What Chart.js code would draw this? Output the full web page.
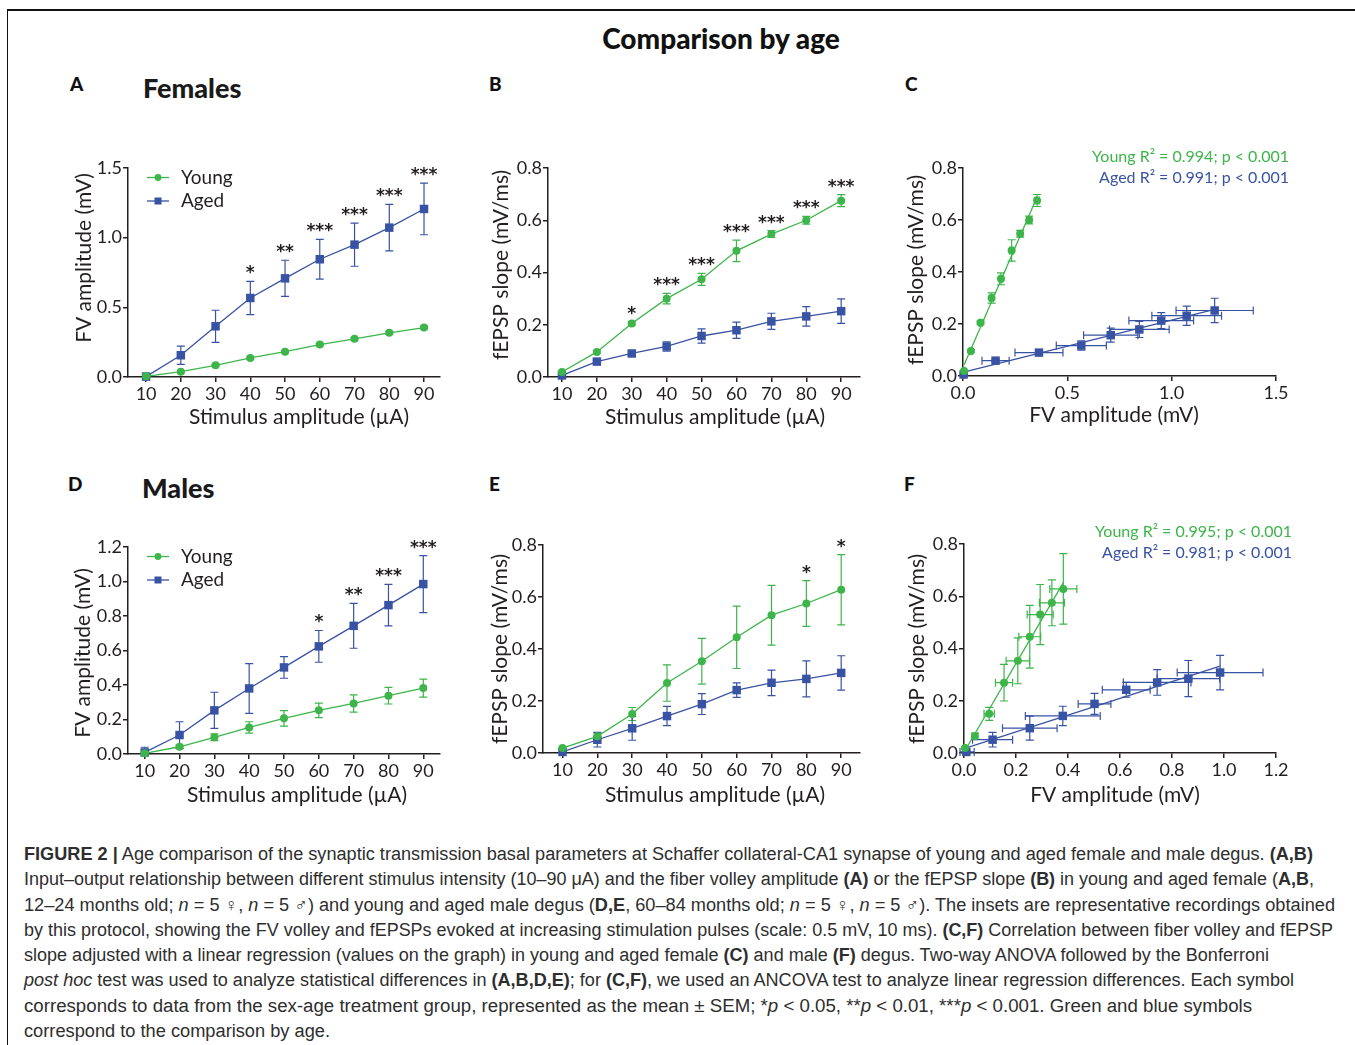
<!DOCTYPE html>
<html lang="en">
<head>
<meta charset="UTF-8">
<title>Comparison by age</title>
<style>
  body { margin: 0; width: 1355px; height: 1045px; position: relative; overflow: hidden;
         background: #fff; color: #231f20; font-family: Lato, "Open Sans", sans-serif; }
  .frame { position: absolute; left: 7px; top: 9px; right: -2px; bottom: -2px;
           border-top: 2px solid #111; border-left: 1px solid #111; }
  .txt { position: absolute; white-space: nowrap; line-height: 30px; }
  .main-title { font-weight: 900; font-size: 28px; transform: translateX(-50%); color: #111; }
  .letter { font-weight: 900; font-size: 19px; color: #111; }
  .group { font-weight: 900; font-size: 27px; color: #1a1a1a; }
  canvas { position: absolute; }
  .caption { position: absolute; left: 24px; top: 842px; font-family: "Liberation Sans", Arial, sans-serif;
             font-size: 18px; line-height: 25.25px; color: #2e2e2e; }
  .caption div { white-space: nowrap; width: max-content; transform-origin: 0 50%; }
</style>
</head>
<body>
<div class="frame"></div>

<div class="txt main-title" style="left:721px; top:23px;">Comparison by age</div>

<div class="txt letter" style="left:70px; top:69px;">A</div>
<div class="txt group" style="left:143px; top:73px;">Females</div>
<div class="txt letter" style="left:489px; top:69px;">B</div>
<div class="txt letter" style="left:905px; top:69px;">C</div>

<div class="txt letter" style="left:68px; top:469px;">D</div>
<div class="txt group" style="left:142px; top:473px;">Males</div>
<div class="txt letter" style="left:489px; top:469px;">E</div>
<div class="txt letter" style="left:904px; top:469px;">F</div>

<div id="charts"></div>

<div class="caption" id="caption">
  <div><b>FIGURE 2 |</b> Age comparison of the synaptic transmission basal parameters at Schaffer collateral-CA1 synapse of young and aged female and male degus. <b>(A,B)</b></div>
  <div>Input–output relationship between different stimulus intensity (10–90 μA) and the fiber volley amplitude <b>(A)</b> or the fEPSP slope <b>(B)</b> in young and aged female (<b>A,B</b>,</div>
  <div>12–24 months old; <i>n</i> = 5 ♀, <i>n</i> = 5 ♂) and young and aged male degus (<b>D,E</b>, 60–84 months old; <i>n</i> = 5 ♀, <i>n</i> = 5 ♂). The insets are representative recordings obtained</div>
  <div>by this protocol, showing the FV volley and fEPSPs evoked at increasing stimulation pulses (scale: 0.5 mV, 10 ms). <b>(C,F)</b> Correlation between fiber volley and fEPSP</div>
  <div>slope adjusted with a linear regression (values on the graph) in young and aged female <b>(C)</b> and male <b>(F)</b> degus. Two-way ANOVA followed by the Bonferroni</div>
  <div><i>post hoc</i> test was used to analyze statistical differences in <b>(A,B,D,E)</b>; for <b>(C,F)</b>, we used an ANCOVA test to analyze linear regression differences. Each symbol</div>
  <div>corresponds to data from the sex-age treatment group, represented as the mean ± SEM; *<i>p</i> &lt; 0.05, **<i>p</i> &lt; 0.01, ***<i>p</i> &lt; 0.001. Green and blue symbols</div>
  <div>correspond to the comparison by age.</div>
</div>

<script src="https://cdn.jsdelivr.net/npm/chart.js@4.4.0/dist/chart.umd.min.js"></script>
<script>
    // stimulus intensities (µA)
    var stim = [10, 20, 30, 40, 50, 60, 70, 80, 90];

    // females: fiber volley amplitude (mV) and fEPSP slope (mV/ms), mean and SEM
    var femFvYoung       = [0.005, 0.038, 0.084, 0.137, 0.182, 0.233, 0.274, 0.317, 0.355];
    var femFvYoungSem    = [0.004, 0.006, 0.007, 0.008, 0.008, 0.009, 0.009, 0.010, 0.010];
    var femFvAged        = [0.003, 0.156, 0.364, 0.567, 0.708, 0.845, 0.950, 1.072, 1.206];
    var femFvAgedSem     = [0.006, 0.065, 0.115, 0.120, 0.130, 0.143, 0.155, 0.167, 0.185];
    var femSlopeYoung    = [0.019, 0.096, 0.205, 0.300, 0.374, 0.483, 0.547, 0.600, 0.675];
    var femSlopeYoungSem = [0.003, 0.005, 0.006, 0.020, 0.023, 0.041, 0.013, 0.015, 0.023];
    var femSlopeAged     = [0.006, 0.059, 0.090, 0.117, 0.157, 0.179, 0.213, 0.232, 0.252];
    var femSlopeAgedSem  = [0.003, 0.005, 0.006, 0.018, 0.027, 0.031, 0.031, 0.037, 0.047];

    // males
    var maleFvYoung       = [0.004, 0.042, 0.097, 0.154, 0.207, 0.253, 0.293, 0.338, 0.382];
    var maleFvYoungSem    = [0.003, 0.010, 0.020, 0.033, 0.045, 0.042, 0.050, 0.048, 0.052];
    var maleFvAged        = [0.009, 0.110, 0.253, 0.380, 0.502, 0.624, 0.743, 0.863, 0.985];
    var maleFvAgedSem     = [0.030, 0.077, 0.105, 0.144, 0.063, 0.092, 0.130, 0.120, 0.165];
    var maleSlopeYoung    = [0.019, 0.064, 0.150, 0.269, 0.353, 0.445, 0.530, 0.575, 0.628];
    var maleSlopeYoungSem = [0.005, 0.012, 0.025, 0.070, 0.088, 0.120, 0.115, 0.088, 0.135];
    var maleSlopeAged     = [0.004, 0.051, 0.095, 0.142, 0.188, 0.242, 0.270, 0.285, 0.308];
    var maleSlopeAgedSem  = [0.004, 0.028, 0.046, 0.037, 0.040, 0.028, 0.049, 0.069, 0.066];

    // significance marks (Bonferroni post hoc)
    var sigFemFv     = ['', '', '', '*', '**', '***', '***', '***', '***'];
    var sigFemSlope  = ['', '', '*', '***', '***', '***', '***', '***', '***'];
    var sigMaleFv    = ['', '', '', '', '', '*', '**', '***', '***'];
    var sigMaleSlope = ['', '', '', '', '', '', '', '*', '*'];

    // regression notes
    var r2Fem  = ['Young R² = 0.994; p < 0.001', 'Aged R² = 0.991; p < 0.001'];
    var r2Male = ['Young R² = 0.995; p < 0.001', 'Aged R² = 0.981; p < 0.001'];

    // tick labels
    var fvTicksFem   = [0, 0.5, 1.0, 1.5];
    var fvTicksMale  = [0, 0.2, 0.4, 0.6, 0.8, 1.0, 1.2];
    var slopeTicks   = [0, 0.2, 0.4, 0.6, 0.8];

    var ink = '#231f20';
    var green = '#3db54a';
    var blue = '#3953a4';
    var stimTitle = 'Stimulus amplitude (µA)';
    var fvTitle = 'FV amplitude (mV)';
    var slopeTitle = 'fEPSP slope (mV/ms)';

    function series(label, xs, ys, errY, errX, color, style, line) {
        return {
            label: label,
            data: xs.map(function(x, i) { return { x: x, y: ys[i] }; }),
            errY: errY, errX: errX,
            borderColor: color, backgroundColor: color,
            pointStyle: style,
            pointRadius: style === 'rect' ? 6 : 4,
            pointBorderWidth: 0,
            showLine: line, borderWidth: 1.3,
            clip: false
        };
    }

    // least squares line over the points, drawn across their x range
    function fitLine(xs, ys, color) {
        var n = xs.length, mx = 0, my = 0, sxy = 0, sxx = 0;
        for (var i = 0; i < n; i++) { mx += xs[i] / n; my += ys[i] / n; }
        for (var j = 0; j < n; j++) { sxy += (xs[j] - mx) * (ys[j] - my); sxx += (xs[j] - mx) * (xs[j] - mx); }
        var b = sxy / sxx, a = my - b * mx;
        var x0 = Math.min.apply(null, xs), x1 = Math.max.apply(null, xs);
        return {
            isFit: true,
            data: [{ x: x0, y: a + b * x0 }, { x: x1, y: a + b * x1 }],
            borderColor: color, borderWidth: 1.3, pointRadius: 0, showLine: true, clip: false
        };
    }

    var errorBars = {
        id: 'errorBars',
        beforeDatasetsDraw: function(chart) {
            var ctx = chart.ctx, xs = chart.scales.x, ys = chart.scales.y;
            var cap = 4;
            chart.data.datasets.forEach(function(ds) {
                if (!ds.errY && !ds.errX) return;
                ctx.save();
                ctx.strokeStyle = ds.borderColor;
                ctx.lineWidth = 1.2;
                ds.data.forEach(function(p, i) {
                    var px = xs.getPixelForValue(p.x), py = ys.getPixelForValue(p.y);
                    ctx.beginPath();
                    if (ds.errY) {
                        var t = ys.getPixelForValue(p.y + ds.errY[i]);
                        var b = Math.min(ys.getPixelForValue(p.y - ds.errY[i]), chart.chartArea.bottom);
                        ctx.moveTo(px, t); ctx.lineTo(px, b);
                        ctx.moveTo(px - cap, t); ctx.lineTo(px + cap, t);
                        if (b < chart.chartArea.bottom) { ctx.moveTo(px - cap, b); ctx.lineTo(px + cap, b); }
                    }
                    if (ds.errX) {
                        var l = Math.max(xs.getPixelForValue(p.x - ds.errX[i]), chart.chartArea.left - 4);
                        var r = xs.getPixelForValue(p.x + ds.errX[i]);
                        ctx.moveTo(l, py); ctx.lineTo(r, py);
                        ctx.moveTo(l, py - cap); ctx.lineTo(l, py + cap);
                        ctx.moveTo(r, py - cap); ctx.lineTo(r, py + cap);
                    }
                    ctx.stroke();
                });
                ctx.restore();
            });
        }
    };

    var panelText = {
        id: 'panelText',
        afterDraw: function(chart, args, o) {
            var ctx = chart.ctx;
            var box = chart.canvas.getBoundingClientRect();
            var ox = box.left, oy = box.top;
            var xs = chart.scales.x, ys = chart.scales.y;
            ctx.save();
            ctx.fillStyle = ink;
            ctx.textAlign = 'center';
            ctx.textBaseline = 'middle';
            ctx.font = '21px Lato';
            ctx.fillText(o.xTitle, o.xTitleAt[0] - ox, o.xTitleAt[1] - oy);
            ctx.save();
            ctx.translate(o.yTitleAt[0] - ox, o.yTitleAt[1] - oy);
            ctx.rotate(-Math.PI / 2);
            ctx.fillText(o.yTitle, 0, 0);
            ctx.restore();

            // significance stars above the highest error bar
            if (o.sig) {
                ctx.font = 'bold 17px "DejaVu Sans"';
                ctx.textBaseline = 'alphabetic';
                o.sig.forEach(function(s, i) {
                    if (!s) return;
                    var top = -Infinity, x = null;
                    chart.data.datasets.forEach(function(ds) {
                        if (!ds.errY) return;
                        var p = ds.data[i];
                        x = p.x;
                        top = Math.max(top, p.y + ds.errY[i]);
                    });
                    ctx.fillText(s, xs.getPixelForValue(x), ys.getPixelForValue(top) - 3);
                });
            }

            // R² notes
            if (o.notes) {
                ctx.font = '16px Lato';
                ctx.textAlign = 'right';
                ctx.textBaseline = 'middle';
                o.notes.forEach(function(n) {
                    ctx.fillStyle = n.color;
                    ctx.fillText(n.text, n.at[0] - ox, n.at[1] - oy);
                });
            }

            // legend: line with marker
            if (o.legend) {
                var lx = o.legend[0] - ox, ly = o.legend[1] - oy;
                ctx.font = '19px Lato';
                ctx.textAlign = 'left';
                ctx.textBaseline = 'middle';
                chart.data.datasets.filter(function(d) { return d.label; }).forEach(function(d, k) {
                    var y = ly + k * 23.5;
                    ctx.strokeStyle = d.borderColor;
                    ctx.lineWidth = 1.3;
                    ctx.beginPath(); ctx.moveTo(lx, y); ctx.lineTo(lx + 22, y); ctx.stroke();
                    ctx.fillStyle = d.borderColor;
                    if (d.pointStyle === 'rect') ctx.fillRect(lx + 7.5, y - 3.5, 7, 7);
                    else { ctx.beginPath(); ctx.arc(lx + 11, y, 3.4, 0, Math.PI * 2); ctx.fill(); }
                    ctx.fillStyle = ink;
                    ctx.fillText(d.label, lx + 34, y);
                });
            }
            ctx.restore();
        }
    };

    var panels = [
        { area: [128, 168, 440, 377], xRange: [4.8, 94.6], xTicks: stim, yTicks: fvTicksFem, dec: 0,
          datasets: [series('Young', stim, femFvYoung, femFvYoungSem, null, green, 'circle', true),
                     series('Aged', stim, femFvAged, femFvAgedSem, null, blue, 'rect', true)],
          text: { xTitle: stimTitle, xTitleAt: [299, 417], yTitle: fvTitle, yTitleAt: [84, 258],
                  sig: sigFemFv, legend: [147, 177.5] } },
        { area: [548, 168, 860, 377], xRange: [6, 95.4], xTicks: stim, yTicks: slopeTicks, dec: 0,
          datasets: [series(null, stim, femSlopeYoung, femSlopeYoungSem, null, green, 'circle', true),
                     series(null, stim, femSlopeAged, femSlopeAgedSem, null, blue, 'rect', true)],
          text: { xTitle: stimTitle, xTitleAt: [715, 417], yTitle: slopeTitle, yTitleAt: [501, 265],
                  sig: sigFemSlope } },
        { area: [963, 168, 1276, 376], xRange: [0, 1.5], xTicks: fvTicksFem, yTicks: slopeTicks, dec: 1,
          datasets: [series(null, femFvYoung, femSlopeYoung, femSlopeYoungSem, femFvYoungSem, green, 'circle', false),
                     series(null, femFvAged, femSlopeAged, femSlopeAgedSem, femFvAgedSem, blue, 'rect', false),
                     fitLine(femFvYoung, femSlopeYoung, green),
                     fitLine(femFvAged, femSlopeAged, blue)],
          text: { xTitle: fvTitle, xTitleAt: [1114, 415], yTitle: slopeTitle, yTitleAt: [916, 270],
                  notes: [{ text: r2Fem[0], color: green, at: [1289, 157] },
                          { text: r2Fem[1], color: blue, at: [1289, 178] }] } },
        { area: [128, 547, 440, 754], xRange: [5.2, 94.8], xTicks: stim, yTicks: fvTicksMale, dec: 0,
          datasets: [series('Young', stim, maleFvYoung, maleFvYoungSem, null, green, 'circle', true),
                     series('Aged', stim, maleFvAged, maleFvAgedSem, null, blue, 'rect', true)],
          text: { xTitle: stimTitle, xTitleAt: [297, 795], yTitle: fvTitle, yTitleAt: [83, 653],
                  sig: sigMaleFv, legend: [147, 556.5] } },
        { area: [543, 545, 860, 753], xRange: [4.4, 95.4], xTicks: stim, yTicks: slopeTicks, dec: 0,
          datasets: [series(null, stim, maleSlopeYoung, maleSlopeYoungSem, null, green, 'circle', true),
                     series(null, stim, maleSlopeAged, maleSlopeAgedSem, null, blue, 'rect', true)],
          text: { xTitle: stimTitle, xTitleAt: [715, 795], yTitle: slopeTitle, yTitleAt: [500, 649],
                  sig: sigMaleSlope } },
        { area: [964, 544, 1276, 753], xRange: [0, 1.2], xTicks: fvTicksMale, yTicks: slopeTicks, dec: 1,
          datasets: [series(null, maleFvYoung, maleSlopeYoung, maleSlopeYoungSem, maleFvYoungSem, green, 'circle', false),
                     series(null, maleFvAged, maleSlopeAged, maleSlopeAgedSem, maleFvAgedSem, blue, 'rect', false),
                     fitLine(maleFvYoung, maleSlopeYoung, green),
                     fitLine(maleFvAged, maleSlopeAged, blue)],
          text: { xTitle: fvTitle, xTitleAt: [1115, 795], yTitle: slopeTitle, yTitleAt: [917, 649],
                  notes: [{ text: r2Male[0], color: green, at: [1292, 532] },
                          { text: r2Male[1], color: blue, at: [1292, 553] }] } }
    ];

    // space reserved around each plot area inside its canvas
    var padL = 80, padT = 40, padR = 40, padB = 70;

    function makePanel(p) {
        var a = p.area;
        var canvas = document.createElement('canvas');
        canvas.width = a[2] - a[0] + padL + padR;
        canvas.height = a[3] - a[1] + padT + padB;
        canvas.style.left = (a[0] - padL) + 'px';
        canvas.style.top = (a[1] - padT) + 'px';
        document.getElementById('charts').appendChild(canvas);

        var axisGrid = { drawOnChartArea: false, drawTicks: true, tickLength: 5, color: ink, lineWidth: 1.5 };
        new Chart(canvas, {
            type: 'scatter',
            data: { datasets: p.datasets },
            plugins: [errorBars, panelText],
            options: {
                responsive: false,
                animation: false,
                events: [],
                layout: { padding: { left: 0, top: padT, right: padR, bottom: 0 } },
                plugins: { legend: { display: false }, tooltip: { enabled: false }, panelText: p.text },
                scales: {
                    x: {
                        type: 'linear', min: p.xRange[0], max: p.xRange[1],
                        afterBuildTicks: function(s) { s.ticks = p.xTicks.map(function(v) { return { value: v }; }); },
                        afterFit: function(s) { s.height = padB; },
                        grid: axisGrid,
                        border: { display: true, color: ink, width: 1.5 },
                        ticks: { color: ink, padding: 1, maxRotation: 0, font: { family: 'Lato', size: 18 },
                                 callback: function(v) { return p.dec ? Number(v).toFixed(1) : String(v); } }
                    },
                    y: {
                        type: 'linear', min: 0, max: p.yTicks[p.yTicks.length - 1],
                        afterBuildTicks: function(s) { s.ticks = p.yTicks.map(function(v) { return { value: v }; }); },
                        afterFit: function(s) { s.width = padL; },
                        grid: axisGrid,
                        border: { display: true, color: ink, width: 1.5 },
                        ticks: { color: ink, padding: 1, font: { family: 'Lato', size: 18 },
                                 callback: function(v) { return Number(v).toFixed(1); } }
                    }
                }
            }
        });
    }

    panels.forEach(makePanel);

    // caption lines fitted to the widths they take in the printed figure
    var captionWidths = [1289, 1290, 1311, 1309, 1245, 1270, 1228, 306];
    function fitCaption() {
        var lines = document.querySelectorAll('#caption div');
        lines.forEach(function(el, i) {
            el.style.transform = 'none';
            var w = el.getBoundingClientRect().width;
            el.style.transform = 'scaleX(' + (captionWidths[i] / w) + ')';
        });
    }
    fitCaption();
    if (document.fonts) document.fonts.ready.then(fitCaption);
</script>
</body>
</html>
